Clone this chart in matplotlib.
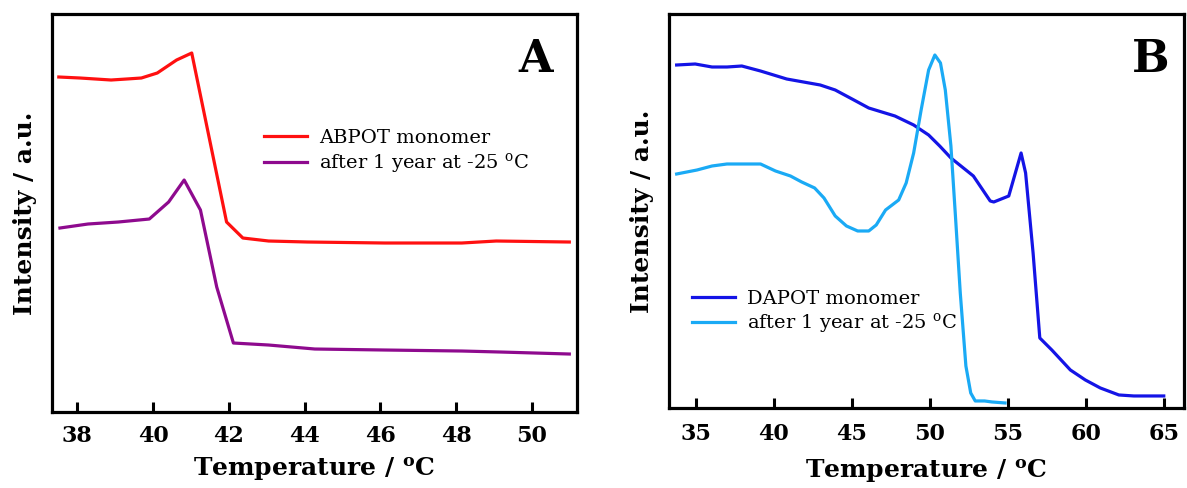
import numpy as np
import matplotlib
matplotlib.use("Agg")
import matplotlib.pyplot as plt

plt.rcParams['font.family'] = ['DejaVu Serif']
plt.rcParams['mathtext.fontset'] = 'custom'
plt.rcParams['mathtext.rm'] = 'DejaVu Serif'
plt.rcParams['mathtext.bf'] = 'DejaVu Serif:bold'

# panel A: ABPOT
t_abpot = [37.51, 38.07, 38.89, 39.30, 39.69, 40.11, 40.62, 41.02, 41.94, 42.37,
           43.05, 44.08, 46.12, 48.15, 49.06, 50.99]
i_abpot = [3.35, 3.34, 3.32, 3.33, 3.34, 3.39, 3.52, 3.59, 1.90, 1.74,
           1.71, 1.70, 1.69, 1.69, 1.71, 1.70]
t_abpot_aged = [37.54, 38.28, 39.08, 39.90, 40.41, 40.82, 41.25, 41.68, 42.12, 43.05,
                44.27, 46.12, 48.15, 49.17, 50.99]
i_abpot_aged = [1.84, 1.88, 1.90, 1.93, 2.10, 2.32, 2.02, 1.25, 0.69, 0.67,
                0.63, 0.62, 0.61, 0.60, 0.58]

# panel B: DAPOT
t_dapot = [33.76, 34.95, 36.03, 36.99, 37.94, 39.14, 40.82, 42.97, 43.93, 45.13,
           46.08, 47.76, 48.96, 49.92, 50.63, 51.35, 52.79, 53.87, 54.10, 55.06,
           55.85, 56.14, 56.62, 57.05, 57.82, 59.01, 59.97, 60.93, 62.12, 63.08, 65.0]
i_dapot = [3.43, 3.44, 3.41, 3.41, 3.42, 3.37, 3.29, 3.23, 3.18, 3.08,
           3.00, 2.92, 2.83, 2.73, 2.62, 2.50, 2.32, 2.07, 2.06, 2.12,
           2.55, 2.35, 1.55, 0.70, 0.58, 0.38, 0.28, 0.20, 0.13, 0.12, 0.12]
t_dapot_aged = [33.76, 35.07, 36.03, 36.99, 37.94, 39.14, 40.10, 41.06, 41.78, 42.61,
                43.21, 43.93, 44.65, 45.37, 46.08, 46.56, 47.16, 48.0, 48.48, 48.96,
                49.44, 49.92, 50.32, 50.68, 50.99, 51.35, 51.64, 51.95, 52.31, 52.62,
                52.91, 53.51, 53.98, 54.82]
i_dapot_aged = [2.34, 2.38, 2.42, 2.44, 2.44, 2.44, 2.37, 2.32, 2.26, 2.20,
                2.10, 1.92, 1.82, 1.77, 1.77, 1.83, 1.98, 2.08, 2.25, 2.55,
                2.98, 3.38, 3.53, 3.45, 3.18, 2.62, 1.92, 1.15, 0.42, 0.15,
                0.07, 0.07, 0.06, 0.05]

fig = plt.figure(figsize=(11.87, 4.88), dpi=100)
axA = fig.add_axes([0.0438, 0.1557, 0.4422, 0.8156])
axB = fig.add_axes([0.5636, 0.1640, 0.4339, 0.8073])

def style(ax, xlim, ylim, xticks, letter, letter_x, xpad, tpad):
    ax.set_xlim(*xlim)
    ax.set_ylim(*ylim)
    ax.set_xticks(xticks)
    ax.set_yticks([])
    for s in ax.spines.values():
        s.set_linewidth(2.3)
    ax.tick_params(axis='x', direction='in', length=7, width=2.2, pad=tpad,
                   labelsize=16)
    for lab in ax.get_xticklabels():
        lab.set_fontweight('bold')
    ax.set_xlabel(r'Temperature / $\mathbf{^{o}}$C', fontsize=18,
                  fontweight='bold', labelpad=xpad)
    ax.set_ylabel('Intensity / a.u.', fontsize=18, fontweight='bold', labelpad=11)
    ax.text(letter_x, 0.885, letter, transform=ax.transAxes, fontsize=32,
            fontweight='bold', ha='center', va='center')

axA.plot(t_abpot, i_abpot, color='#ff1010', lw=2.3, label='ABPOT monomer')
axA.plot(t_abpot_aged, i_abpot_aged, color='#8e0a8e', lw=2.3,
         label=r'after 1 year at -25 $^{\mathrm{o}}$C')
style(axA, (37.33, 51.19), (0, 3.98), range(38, 51, 2), 'A', 0.922, 7, 9)
axA.legend(loc='upper left', bbox_to_anchor=(0.39, 0.73), frameon=False,
           fontsize=14, handlelength=2.2, handletextpad=0.6, labelspacing=0.2,
           borderaxespad=0)

axB.plot(t_dapot, i_dapot, color='#1414e6', lw=2.3, label='DAPOT monomer')
axB.plot(t_dapot_aged, i_dapot_aged, color='#1aaaf5', lw=2.3,
         label=r'after 1 year at -25 $^{\mathrm{o}}$C')
style(axB, (33.27, 66.3), (0, 3.94), range(35, 66, 5), 'B', 0.935, 9, 11)
axB.legend(loc='upper left', bbox_to_anchor=(0.03, 0.32), frameon=False,
           fontsize=14, handlelength=2.2, handletextpad=0.6, labelspacing=0.2,
           borderaxespad=0)

fig.savefig('out.png', dpi=100)
